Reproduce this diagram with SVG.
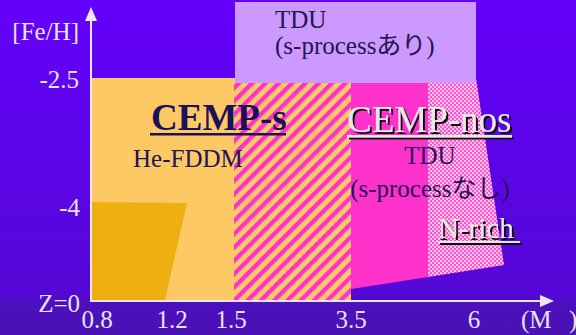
<svg xmlns="http://www.w3.org/2000/svg" width="576" height="335" viewBox="0 0 576 335">
<defs>
<linearGradient id="bg" x1="0" y1="0" x2="0" y2="1">
<stop offset="0" stop-color="#6400FA"/>
<stop offset="0.88" stop-color="#5408D6"/>
<stop offset="0.905" stop-color="#4C10BC"/>
<stop offset="1" stop-color="#4A12B4"/>
</linearGradient>
<pattern id="stripes" patternUnits="userSpaceOnUse" width="9.4" height="10" patternTransform="rotate(45)">
<rect width="9.4" height="10" fill="#FDC964"/>
<rect width="4.3" height="10" fill="#FF33CC"/>
</pattern>
<pattern id="checker" patternUnits="userSpaceOnUse" width="4" height="4">
<rect width="4" height="4" fill="#FF55CC"/>
<rect width="2" height="2" fill="#FFC4EC"/>
<rect x="2" y="2" width="2" height="2" fill="#FFC4EC"/>
</pattern>
<filter id="shadow" x="-10%" y="-20%" width="130%" height="150%">
<feDropShadow dx="2" dy="2" stdDeviation="0.2" flood-color="#111111" flood-opacity="1"/>
</filter>
<marker id="arr" viewBox="0 0 14 12" refX="1" refY="6" markerUnits="userSpaceOnUse" markerWidth="14" markerHeight="12" orient="auto">
<path d="M0,0 L14,6 L0,12 Z" fill="#EDE7F5"/>
</marker>
</defs>
<style>
.lab{font-family:"Liberation Serif","Times New Roman",serif;font-size:25px;fill:#E8E3F2}
.dark{font-family:"Liberation Serif","Noto Sans CJK JP",serif;font-size:25px;fill:#261258}
.big{font-family:"Liberation Serif",serif;font-size:37px}
.lt{fill:#E8E8E8}
</style>
<rect width="576" height="335" fill="url(#bg)"/>
<g id="he-fddm-region"><rect x="92" y="78" width="143" height="222" fill="#FDC964"/></g>
<g id="gold-region"><polygon points="92,202 187,203 165,300 92,300" fill="#EEB010"/></g>
<g id="striped-region"><rect x="234" y="78" width="117" height="222" fill="url(#stripes)"/></g>
<g id="cemp-nos-region"><polygon points="351,78 428,78 428,277 351,289" fill="#FF33CC"/></g>
<g id="n-rich-region"><polygon points="428,78 476,78 504,265 428,277" fill="url(#checker)"/></g>
<g id="tdu-s-box">
<rect x="235" y="2" width="241" height="81" fill="#CC99FF"/>
<text class="dark" x="275" y="28">TDU</text>
<text class="dark" x="275" y="54">(s-processあり)</text>
</g>
<g id="connectors">
<line x1="91" y1="301" x2="91" y2="20" stroke="#EDE7F5" stroke-width="2" marker-end="url(#arr)"/>
<line x1="90" y1="301" x2="541" y2="301" stroke="#EDE7F5" stroke-width="2" marker-end="url(#arr)"/>
</g>
<g id="axis-labels">
<text class="lab" x="79" y="40" text-anchor="end">[Fe/H]</text>
<text class="lab" x="79" y="88" text-anchor="end">-2.5</text>
<text class="lab" x="80" y="216" text-anchor="end">-4</text>
<text class="lab" x="80" y="312" text-anchor="end">Z=0</text>
<text class="lab" x="97" y="328" text-anchor="middle">0.8</text>
<text class="lab" x="172" y="328" text-anchor="middle">1.2</text>
<text class="lab" x="231" y="328" text-anchor="middle">1.5</text>
<text class="lab" x="351" y="328" text-anchor="middle">3.5</text>
<text class="lab" x="474" y="328" text-anchor="middle">6</text>
<text class="lab" x="521" y="328">(M</text>
<text class="lab" x="569" y="328">)</text>
</g>
<g id="cemp-s">
<text class="big" x="151" y="130" font-weight="bold" fill="#1E0F5A">CEMP-s</text>
<rect x="150" y="133" width="136" height="2.5" fill="#1E0F5A"/>
<text class="dark" x="133" y="167" font-size="26">He-FDDM</text>
</g>
<g id="cemp-nos">
<g filter="url(#shadow)">
<text class="big lt" x="347" y="132">CEMP-nos</text>
<rect x="347" y="135" width="165" height="2.5" class="lt"/>
</g>
<text class="dark" x="430" y="164" text-anchor="middle">TDU</text>
<text class="dark" x="430" y="197" text-anchor="middle">(s-processなし)</text>
</g>
<g id="n-rich" filter="url(#shadow)">
<text class="lt" x="438" y="238" font-family="Liberation Serif,serif" font-size="29">N-rich</text>
<rect x="438" y="241" width="82" height="2" class="lt"/>
</g>
</svg>
